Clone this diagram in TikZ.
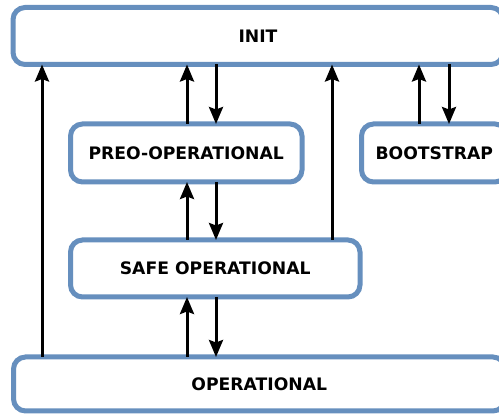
\documentclass[tikz,border=0pt]{standalone}
\usepackage{fontspec}
\setmainfont{DejaVu Sans}
\usetikzlibrary{arrows.meta}
\definecolor{stateblue}{RGB}{102,143,190}
\tikzset{
  state/.style={draw=stateblue, line width=5pt, rounded corners=12pt, fill=white,
    inner sep=0pt, outer sep=0pt,
    font=\fontsize{17.2}{20}\selectfont\bfseries},
  trans/.style={line width=3pt, -{Stealth[length=17pt,width=14pt,inset=2.5pt]}}
}
\begin{document}
\begin{tikzpicture}[x=1pt, y=-1pt]
  \useasboundingbox (0,0) rectangle (499,414);
  \clip (0,0) rectangle (499,414);

  % states
  \node[state, minimum width=490pt,   minimum height=57pt] (init) at (258,36)      {INIT};
  \node[state, minimum width=231.5pt, minimum height=58pt] (preop) at (186.25,153) {PREO-OPERATIONAL};
  \node[state, minimum width=145.5pt, minimum height=58pt] (boot) at (434.25,153)  {BOOTSTRAP};
  \node[state, minimum width=289.5pt, minimum height=57pt] (safe) at (215.25,268.5) {SAFE OPERATIONAL};
  \node[state, minimum width=491.5pt, minimum height=54pt] (oper) at (259.25,384)  {OPERATIONAL};

  % columns of the transition arrows
  \coordinate (cA) at (42,0);
  \coordinate (cB) at (187,0);
  \coordinate (cC) at (216,0);
  \coordinate (cD) at (332,0);
  \coordinate (cE) at (419,0);
  \coordinate (cF) at (449,0);

  % transitions
  \draw[trans] (oper.north -| cA) -- (init.south -| cA);
  \draw[trans] (preop.north -| cB) -- (init.south -| cB);
  \draw[trans] (init.south -| cC) -- (preop.north -| cC);
  \draw[trans] (safe.north -| cB) -- (preop.south -| cB);
  \draw[trans] (preop.south -| cC) -- (safe.north -| cC);
  \draw[trans] (oper.north -| cB) -- (safe.south -| cB);
  \draw[trans] (safe.south -| cC) -- (oper.north -| cC);
  \draw[trans] (safe.north -| cD) -- (init.south -| cD);
  \draw[trans] (boot.north -| cE) -- (init.south -| cE);
  \draw[trans] (init.south -| cF) -- (boot.north -| cF);
\end{tikzpicture}
\end{document}
